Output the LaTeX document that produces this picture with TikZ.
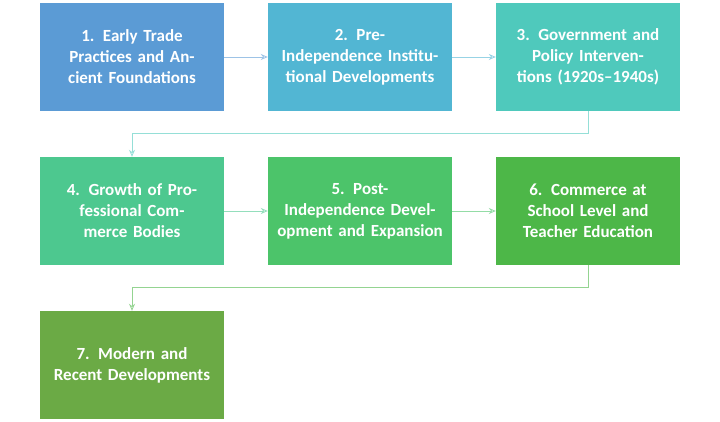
\documentclass[tikz,border=0pt]{standalone}
\usepackage{fontspec}
\setmainfont{Carlito}
\usetikzlibrary{arrows.meta}
\definecolor{c1}{HTML}{5B9BD5}
\definecolor{c2}{HTML}{52B6D3}
\definecolor{c3}{HTML}{4FC9BC}
\definecolor{c4}{HTML}{4DC88F}
\definecolor{c5}{HTML}{4CC46A}
\definecolor{c6}{HTML}{4DB748}
\definecolor{c7}{HTML}{6BAA45}
\tikzset{box/.style={draw=none,minimum width=184pt,minimum height=108pt,text width=170pt,align=center,text=white,font=\bfseries\fontsize{17}{21}\selectfont,inner sep=0pt},
conn/.style={draw=#1!60!white,line width=0.8pt,-{Stealth[length=7pt,width=6pt,open]}}}
\begin{document}
\begin{tikzpicture}[x=1pt,y=-1pt]
\useasboundingbox (0,0) rectangle (720,422);
\node[box,fill=c1] (b1) at (132,57) {1. Early Trade Practices and Ancient Foundations};
\node[box,fill=c2] (b2) at (360,57) {2. Pre-\\Independence Institutional Developments};
\node[box,fill=c3] (b3) at (588,57) {3. Government and Policy Interventions (1920s–1940s)};
\node[box,fill=c4] (b4) at (132,211) {4. Growth of Professional Commerce Bodies};
\node[box,fill=c5] (b5) at (360,211) {5. Post-\\Independence Development and Expansion};
\node[box,fill=c6] (b6) at (588,211) {6. Commerce at School Level and Teacher Education};
\node[box,fill=c7] (b7) at (132,365) {7. Modern and Recent Developments};
\draw[conn=c1] (b1) -- (b2);
\draw[conn=c2] (b2) -- (b3);
\draw[conn=c3] (b3.south) -- ++(0,22) -| (b4.north);
\draw[conn=c4] (b4) -- (b5);
\draw[conn=c5] (b5) -- (b6);
\draw[conn=c6] (b6.south) -- ++(0,22) -| (b7.north);
\end{tikzpicture}
\end{document}
